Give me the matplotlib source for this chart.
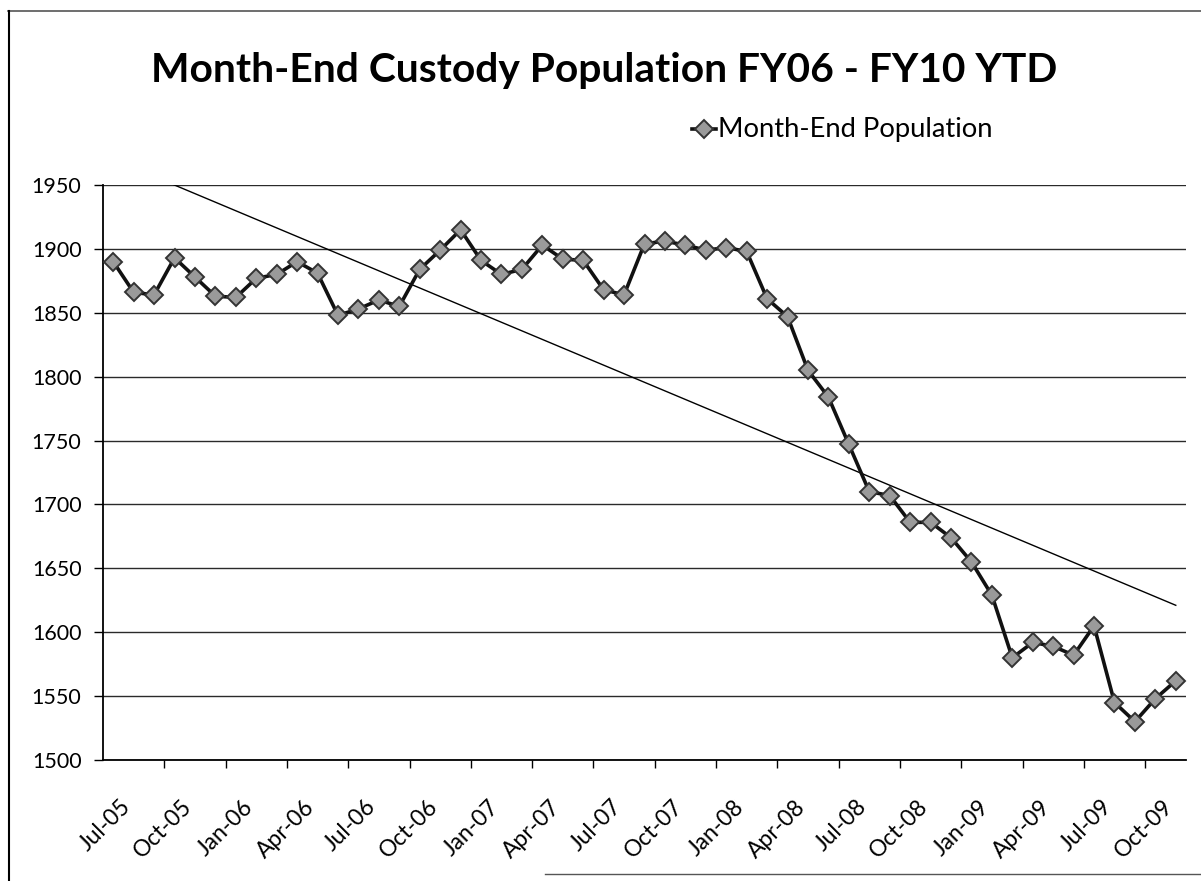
import numpy as np
import pandas as pd
import matplotlib
matplotlib.use("Agg")
import matplotlib.pyplot as plt
from matplotlib.lines import Line2D
from matplotlib.transforms import ScaledTranslation

# ---------------- data ----------------
months = pd.date_range("2005-07-01", "2009-11-01", freq="MS").strftime("%b-%y").tolist()
population = [1890, 1866, 1864, 1893, 1878, 1863, 1862, 1877, 1880, 1890, 1881, 1848,
              1853, 1860, 1855, 1884, 1899, 1915, 1891, 1880, 1884, 1903, 1892, 1891,
              1868, 1864, 1904, 1906, 1903, 1899, 1901, 1898, 1861, 1847, 1805, 1784,
              1747, 1710, 1707, 1686, 1686, 1674, 1655, 1629, 1580, 1592, 1589, 1582,
              1605, 1545, 1530, 1548, 1562]
tick_labels = ["Jul-05", "Oct-05", "Jan-06", "Apr-06", "Jul-06", "Oct-06", "Jan-07",
               "Apr-07", "Jul-07", "Oct-07", "Jan-08", "Apr-08", "Jul-08", "Oct-08",
               "Jan-09", "Apr-09", "Jul-09", "Oct-09"]
y_ticks = [1500, 1550, 1600, 1650, 1700, 1750, 1800, 1850, 1900, 1950]
title = "Month-End Custody Population FY06 - FY10 YTD"
series_name = "Month-End Population"

FONT = "Lato"
W, H = 1201, 881
fig = plt.figure(figsize=(W / 100, H / 100), dpi=100)
fig.patch.set_facecolor("white")

def px(x, y):
    return x / W, 1 - y / H

# plot area
L, R, T, B = 103, 1186, 185, 760
ax = fig.add_axes([L / W, 1 - B / H, (R - L) / W, (B - T) / H])
n = len(population)
x = np.arange(n)

ax.set_xlim(-0.5, n - 0.5)
ax.set_ylim(y_ticks[0], y_ticks[-1])

# grid
ax.set_yticks(y_ticks)
ax.yaxis.grid(True, color="#2a2a2a", lw=1.0)
ax.set_axisbelow(True)
for s in ["top", "right"]:
    ax.spines[s].set_visible(False)
for s in ["left", "bottom"]:
    ax.spines[s].set_color("black")
    ax.spines[s].set_linewidth(1.3)

ax.tick_params(axis="y", direction="out", length=6.5, width=1.0, pad=9,
               labelsize=15.5, colors="black")
for lab in ax.get_yticklabels():
    lab.set_fontfamily(FONT)

# x ticks: marks at group boundaries, labels at category centres
ax.set_xticks(np.arange(2.5, n - 1, 3))
ax.tick_params(axis="x", which="major", direction="out", length=5.5, width=1.0,
               labelbottom=False)
label_pos = [months.index(m) for m in tick_labels]
ax.set_xticks(label_pos, minor=True)
ax.set_xticklabels(tick_labels, minor=True, rotation=45, ha="right", va="top",
                   rotation_mode="anchor", fontsize=16.5, fontfamily=FONT)
ax.tick_params(axis="x", which="minor", length=0, pad=26)
for lab in ax.get_xticklabels(minor=True):
    lab.set_transform(lab.get_transform() + ScaledTranslation(7 / 100, 0, fig.dpi_scale_trans))

# trend line (linear fit of the series)
coef = np.polyfit(x, population, 1)
ax.plot(x, np.polyval(coef, x), color="black", lw=1.0, zorder=2)

# data line
ax.plot(x, population, color="#111111", lw=2.6, marker="D", markersize=9,
        markerfacecolor="#9a9a9a", markeredgecolor="#333333", markeredgewidth=1.4,
        zorder=3, clip_on=False)

# ---------- title & legend ----------
renderer = fig.canvas.get_renderer()

def fit(t, target_w):
    bb = t.get_window_extent(renderer)
    t.set_fontsize(t.get_fontsize() * target_w / bb.width)

tx, ty = px(604, 82)
t = fig.text(tx, ty, title, ha="center", va="baseline", fontsize=28,
             fontweight="bold", fontfamily=FONT, color="black")
fit(t, 905)

lx, ly = px(718, 137)
lt = fig.text(lx, ly, series_name, ha="left", va="baseline", fontsize=16,
              fontfamily=FONT, color="black")
fit(lt, 275)

mx0, my = px(692, 129)
mx1, _ = px(716, 129)
fig.add_artist(Line2D([mx0, mx1], [my, my], transform=fig.transFigure, color="#111111",
                      lw=2.6))
fig.add_artist(Line2D([(mx0 + mx1) / 2], [my], transform=fig.transFigure, marker="D",
                      markersize=9, markerfacecolor="#9a9a9a", markeredgecolor="#333333",
                      markeredgewidth=1.4, lw=0))

# chart border (top, left, partial bottom)
bc = "#555555"
fig.add_artist(Line2D([px(8, 0)[0], 1.0], [px(0, 11)[1]] * 2, transform=fig.transFigure,
                      color=bc, lw=1.2))
fig.add_artist(Line2D([px(9, 0)[0]] * 2, [px(0, 11)[1], 0.0], transform=fig.transFigure,
                      color="black", lw=1.5))
fig.add_artist(Line2D([px(545, 0)[0], 1.0], [px(0, 874)[1]] * 2, transform=fig.transFigure,
                      color=bc, lw=1.0))

fig.savefig("out.png", dpi=100, facecolor="white")
